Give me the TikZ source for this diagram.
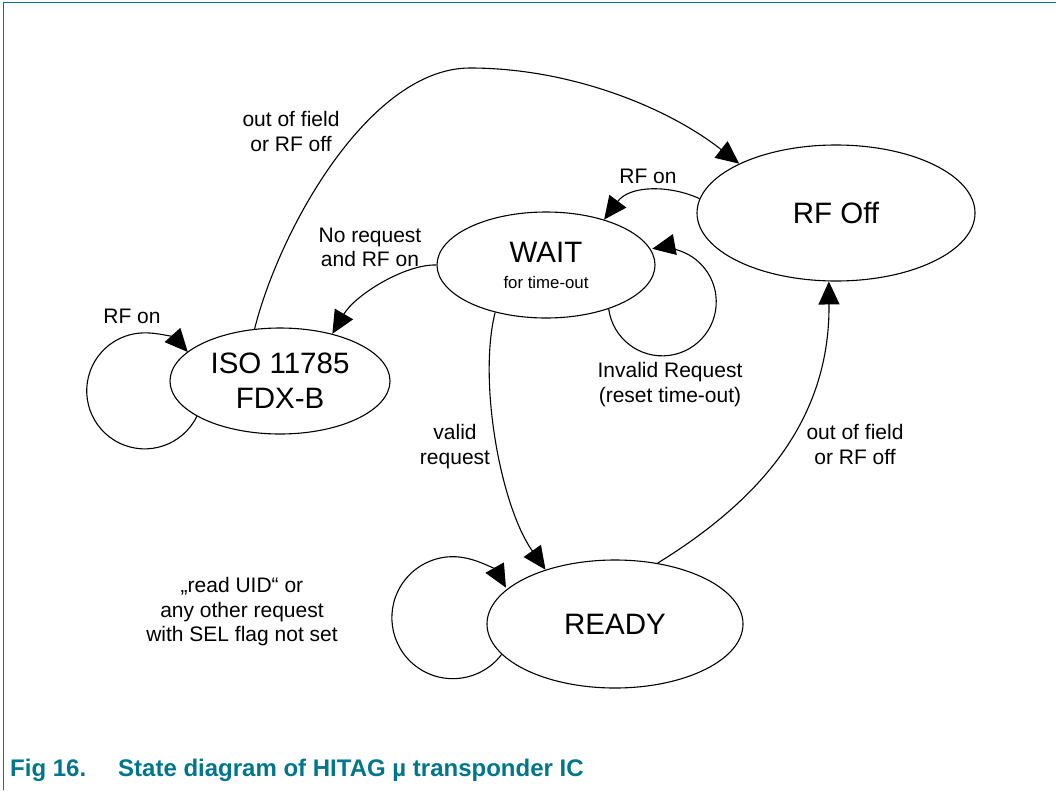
\documentclass[tikz,border=0pt]{standalone}
\usepackage{fontspec}
\setmainfont{Liberation Sans}
\usetikzlibrary{arrows.meta,shapes.geometric}
\definecolor{nxpteal}{RGB}{0,118,140}
\begin{document}
\begin{tikzpicture}[x=1pt,y=1pt,
  state/.style={ellipse, draw, line width=1.1pt, inner sep=0pt, align=center,
    font=\fontsize{29.5}{35}\selectfont},
  lbl/.style={align=center, inner sep=0pt, font=\fontsize{21}{24.5}\selectfont},
  edge/.style={line width=1.1pt, -{Triangle[length=23pt,width=21pt]}},
  caption/.style={inner sep=0pt, text=nxpteal, font=\bfseries\fontsize{24}{28}\selectfont}]
\useasboundingbox (0,0) rectangle (1056,-790);
\draw[nxpteal, line width=1.3pt] (3.5,-790) -- (3.5,-2.5) -- (1056,-2.5);

% states
\node[state, minimum width=278pt, minimum height=136pt] (rfoff) at (836,-213) {RF Off};
\node[state, minimum width=218pt, minimum height=106pt] (wait) at (546,-265)
  {WAIT\\[-9pt]{\fontsize{16.8}{20}\selectfont for time-out}};
\node[state, minimum width=220pt, minimum height=106pt] (iso) at (280,-381) {ISO 11785\\FDX-B};
\node[state, minimum width=256pt, minimum height=128pt] (ready) at (615,-624) {READY};

% labels
\node[lbl] (lOutA) at (291,-131.6) {out of field\\or RF off};
\node[lbl, anchor=base] (lRFonA) at (648,-183) {RF on};
\node[lbl] (lNoReq) at (370,-247.6) {No request\\and RF on};
\node[lbl] (lInv) at (670,-384.8) {Invalid Request\\(reset time-out)};
\node[lbl] (lValid) at (455,-446.8) {valid\\request};
\node[lbl] (lOutB) at (855,-444.6) {out of field\\or RF off};
\node[lbl, anchor=base] (lRFonB) at (132,-323) {RF on};
\node[lbl] (lRead) at (242,-612) {„read UID“ or\\any other request\\with SEL flag not set};

% transitions
\coordinate (arctop) at (470,-68);
\draw[edge] (iso.116.1) .. controls (280,-228) and (370,-68) .. (arctop)
  .. controls (570,-68) and (667,-107) .. (rfoff.153.7);
\draw[edge] (rfoff.174.2) .. controls (670,-185) and (630,-185) .. (wait.38.3);
\draw[edge] (wait.180) .. controls (405,-264) and (355,-295) .. (iso.42.7);
\draw[edge] (wait.-35.1) arc[start angle=187.5, end angle=460.7, radius=54];
\draw[edge] (wait.-137.9) .. controls (478,-380) and (500,-505) .. (ready.142.1);
\draw[edge] (ready.55.5) .. controls (760,-500) and (830,-420) .. (rfoff.-96);
\draw[edge] (ready.195.9) arc[start angle=-37, end angle=-330.5, radius=61];
\draw[edge] (iso.203.7) arc[start angle=-26, end angle=-318, radius=58];

% caption
\node[caption, anchor=base west] (figno) at (10,-776) {Fig 16.};
\node[caption, anchor=base west] (figtitle) at (118,-776) {State diagram of HITAG µ transponder IC};
\end{tikzpicture}
\end{document}
